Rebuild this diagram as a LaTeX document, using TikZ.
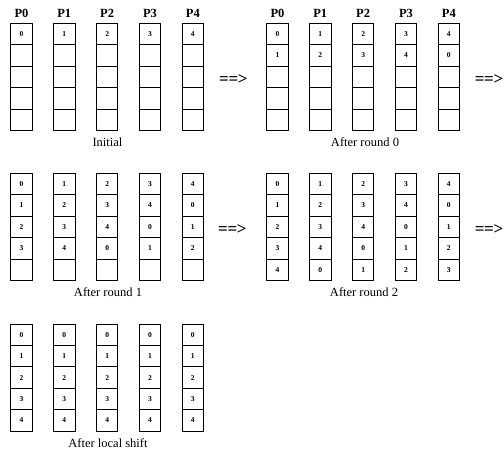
\documentclass[tikz,border=0pt]{standalone}
\usepackage{fontspec}
\setmainfont{Liberation Serif}
\newcommand\drawblock[5]{%
  \foreach \c in {0,...,4}{%
    \foreach \r in {0,...,4}{%
      \pgfmathtruncatemacro\v{mod(#5*\c+\r,5)}%
      \pgfmathtruncatemacro\f{\r<#4 ? 1 : 0}%
      \node[cell] (#1-\c-\r) at ({#2+10.75+\c*42.85},{#3+10.7+\r*21.45}) {\ifnum\f=1 \v\fi};
    }%
  }%
}
\begin{document}
\begin{tikzpicture}[x=1pt,y=-1pt,
  cell/.style={draw=black, line width=0.9pt, minimum width=21.5pt, minimum height=21.45pt, inner sep=0pt, font=\fontsize{7.5}{7.5}\selectfont\bfseries},
  plabel/.style={font=\fontsize{12.5}{12.5}\selectfont\bfseries, inner sep=0pt},
  caption/.style={font=\fontsize{12.5}{12.5}\selectfont, inner sep=0pt},
  arrowtxt/.style={font=\fontsize{17}{17}\selectfont\bfseries, inner sep=0pt}]
\useasboundingbox (0,0) rectangle (504,452);
% processor labels
\foreach \c in {0,...,4}{
  \node[plabel] (t1-p\c) at ({10.7+10.75+\c*42.85},13) {P\c};
  \node[plabel] (t2-p\c) at ({266.7+10.75+\c*42.85},13) {P\c};
}
% blocks
\drawblock{b1}{10.7}{23.3}{1}{1}
\drawblock{b2}{266.7}{23.3}{2}{1}
\drawblock{b3}{10.7}{173.3}{4}{1}
\drawblock{b4}{266.7}{173.3}{5}{1}
\drawblock{b5}{10.7}{324}{5}{0}
% captions
\node[caption] (cap1) at (107.5,142) {Initial};
\node[caption] (cap2) at (365,142) {After round 0};
\node[caption] (cap3) at (108,292) {After round 1};
\node[caption] (cap4) at (364,292) {After round 2};
\node[caption] (cap5) at (108,443) {After local shift};
% arrows
\node[arrowtxt, anchor=west] (a1) at (219,80) {=\kern-0.3pt=\kern-0.3pt>};
\node[arrowtxt, anchor=east] (a2) at (503.5,80) {=\kern-0.3pt=\kern-0.3pt>};
\node[arrowtxt, anchor=west] (a3) at (218,230) {=\kern-0.3pt=\kern-0.3pt>};
\node[arrowtxt, anchor=east] (a4) at (503.5,230) {=\kern-0.3pt=\kern-0.3pt>};
\end{tikzpicture}
\end{document}
